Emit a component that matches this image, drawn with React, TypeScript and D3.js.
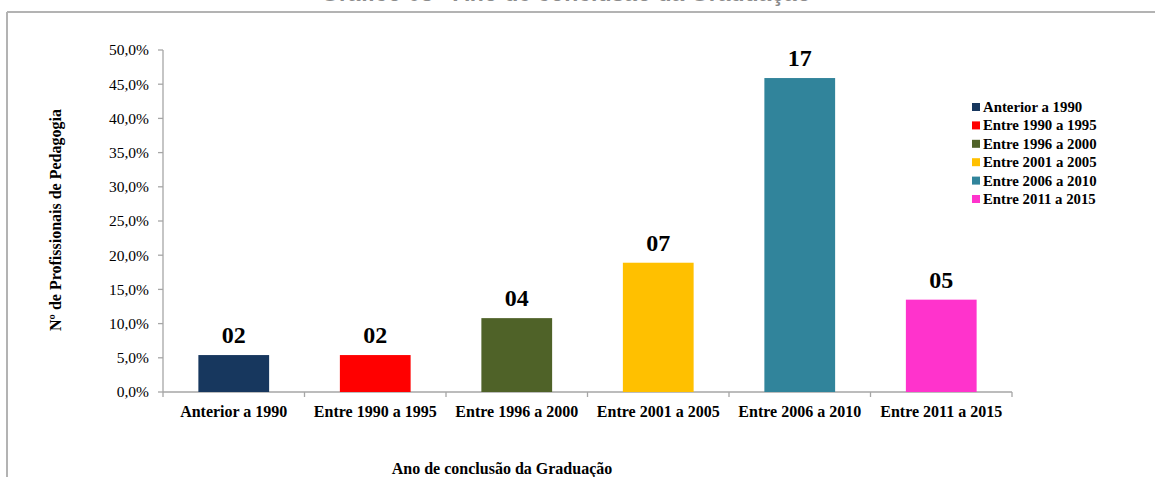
import React from "react";
import * as d3 from "d3";

const categories = ["Anterior a 1990", "Entre 1990 a 1995", "Entre 1996 a 2000", "Entre 2001 a 2005", "Entre 2006 a 2010", "Entre 2011 a 2015"];
const percents = [5.4, 5.4, 10.8, 18.9, 45.9, 13.5];
const counts = ["02", "02", "04", "07", "17", "05"];
const colors = ["#17375E", "#FF0000", "#4F6228", "#FFC000", "#31849B", "#FF33CC"];
const yTicks = [0, 5, 10, 15, 20, 25, 30, 35, 40, 45, 50];

const W = 1155, H = 477;
const left = 163, right = 1012, top = 50, bottom = 392;
const serif = "'Liberation Serif', 'Times New Roman', serif";

export default function App() {
  const x = d3.scaleBand<string>().domain(categories).range([left, right]).paddingInner(0.5).paddingOuter(0.25);
  const xb = d3.scaleBand<string>().domain(categories).range([left, right]);
  const y = d3.scaleLinear().domain([0, 50]).range([bottom, top]);
  const fmt = (v: number) => v.toFixed(1).replace(".", ",") + "%";
  const axisColor = "#a6a6a6";
  return (
    <svg width={W} height={H} style={{ position: "absolute", left: 0, top: 0, background: "#fff" }}>
      <text x={566} y={0.6} textAnchor="middle" fontFamily="'Liberation Sans', Arial, sans-serif" fontWeight="bold" fontSize={23} fill="#8c8c8c">Gráfico 05 - Ano de conclusão da Graduação</text>
      <line x1={7} x2={W} y1={12} y2={12} stroke="#b3b3b3" strokeWidth={2} />
      <line x1={7} x2={7} y1={12} y2={H} stroke="#b3b3b3" strokeWidth={2} />
      <line x1={left} x2={left} y1={top} y2={bottom} stroke={axisColor} strokeWidth={1.3} />
      {yTicks.map((t) => (
        <g key={t}>
          <line x1={left - 5} x2={left} y1={y(t)} y2={y(t)} stroke={axisColor} strokeWidth={1.3} />
          <text x={149} y={y(t)} dy="0.35em" textAnchor="end" fontFamily={serif} fontSize={15.5} fill="#000">{fmt(t)}</text>
        </g>
      ))}
      <line x1={left} x2={right} y1={bottom} y2={bottom} stroke={axisColor} strokeWidth={1.3} />
      {categories.map((c, i) => (
        <line key={"t" + i} x1={xb(c)!} x2={xb(c)!} y1={bottom} y2={bottom + 5} stroke={axisColor} strokeWidth={1.3} />
      ))}
      <line x1={right} x2={right} y1={bottom} y2={bottom + 5} stroke={axisColor} strokeWidth={1.3} />
      {categories.map((c, i) => (
        <g key={c}>
          <rect x={x(c)!} y={y(percents[i])} width={x.bandwidth()} height={bottom - y(percents[i])} fill={colors[i]} />
          <text x={x(c)! + x.bandwidth() / 2} y={y(percents[i]) - 12} textAnchor="middle" fontFamily={serif} fontWeight="bold" fontSize={24} fill="#000">{counts[i]}</text>
          <text x={xb(c)! + xb.bandwidth() / 2} y={417} textAnchor="middle" fontFamily={serif} fontWeight="bold" fontSize={16} fill="#000">{c}</text>
        </g>
      ))}
      <text transform={`translate(61,220) rotate(-90)`} textAnchor="middle" fontFamily={serif} fontWeight="bold" fontSize={16} fill="#000">Nº de Profissionais de Pedagogia</text>
      <text x={502} y={474} textAnchor="middle" fontFamily={serif} fontWeight="bold" fontSize={16} fill="#000">Ano de conclusão da Graduação</text>
      {categories.map((c, i) => (
        <g key={"l" + i}>
          <rect x={972} y={103 + i * 18.4} width={8} height={8} fill={colors[i]} />
          <text x={983} y={112 + i * 18.4} fontFamily={serif} fontWeight="bold" fontSize={14.8} fill="#000">{c}</text>
        </g>
      ))}
    </svg>
  );
}
